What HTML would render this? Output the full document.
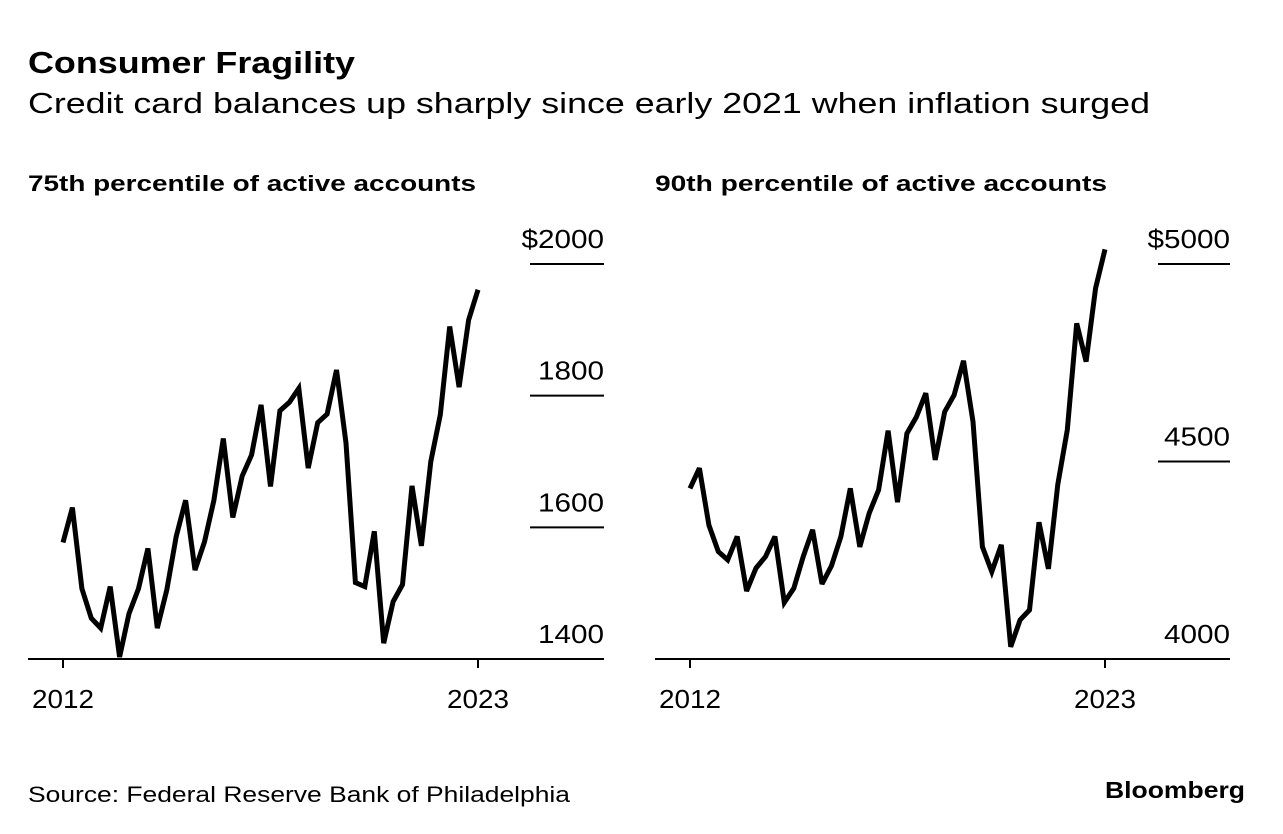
<!DOCTYPE html>
<html><head><meta charset="utf-8"><style>
body{margin:0;background:#fff;}
svg{display:block;font-family:"Liberation Sans",sans-serif;}
</style></head><body>
<svg id="c" width="1283" height="834">
<text x="28" y="73" font-size="31" font-weight="bold" textLength="327" lengthAdjust="spacingAndGlyphs">Consumer Fragility</text>
<text x="28" y="113" font-size="29" textLength="1122" lengthAdjust="spacingAndGlyphs">Credit card balances up sharply since early 2021 when inflation surged</text>
<text x="28" y="191" font-size="22" font-weight="bold" textLength="448" lengthAdjust="spacingAndGlyphs">75th percentile of active accounts</text>
<text x="655" y="191" font-size="22" font-weight="bold" textLength="452" lengthAdjust="spacingAndGlyphs">90th percentile of active accounts</text>
<text x="28" y="802" font-size="22" textLength="542" lengthAdjust="spacingAndGlyphs">Source: Federal Reserve Bank of Philadelphia</text>
<text x="1245" y="798" font-size="23" font-weight="bold" text-anchor="end" textLength="140" lengthAdjust="spacingAndGlyphs">Bloomberg</text>
<g id="left"></g>
<g id="right"></g>
</svg>
<script>
const xLabels = ["2012", "2023"];
const leftTicks = [1400, 1600, 1800, 2000];
const leftTickLabels = ["1400", "1600", "1800", "$2000"];
const rightTicks = [4000, 4500, 5000];
const rightTickLabels = ["4000", "4500", "$5000"];
const leftValues = [1577,1630,1507,1462,1447,1510,1403,1469,1507,1568,1447,1505,1586,1641,1535,1578,1641,1735,1615,1678,1710,1786,1662,1777,1790,1811,1690,1759,1772,1839,1728,1516,1510,1594,1424,1487,1513,1663,1572,1700,1771,1905,1813,1915,1961];
const rightValues = [4432,4483,4339,4272,4251,4310,4172,4230,4259,4310,4143,4179,4259,4327,4190,4236,4310,4432,4284,4369,4428,4578,4397,4571,4613,4673,4504,4626,4668,4755,4601,4284,4221,4289,4031,4099,4124,4346,4228,4442,4580,4850,4753,4939,5037];

const NS = "http://www.w3.org/2000/svg";
function mk(parent, tag, attrs, text) {
  const e = document.createElementNS(NS, tag);
  for (const k in attrs) e.setAttribute(k, attrs[k]);
  if (text !== undefined) e.textContent = text;
  parent.appendChild(e);
  return e;
}
function panel(g, values, ticks, tickLabels, x0, x1, axL, axR, gridL, vMin, vMax, prefix) {
  const yB = 659, yT = 264;
  const yS = v => yB - (v - vMin) / (vMax - vMin) * (yB - yT);
  const xS = i => x0 + i / (values.length - 1) * (x1 - x0);
  ticks.forEach((t, i) => {
    const y = yS(t);
    if (i > 0) {
      const l = mk(g, "line", {x1: gridL, x2: axR, y1: y, y2: y, stroke: "#000", "stroke-width": 2});
      
      
    }
    const lab = tickLabels[i];
    const w = lab.length * 16.5 + (lab[0] === '$' ? 0 : 0);
    const tx = mk(g, "text", {x: axR, y: y - 16, "font-size": 26, "text-anchor": "end", textLength: w, lengthAdjust: "spacingAndGlyphs"}, lab);
    
    
  });
  const ax = mk(g, "line", {x1: axL, x2: axR, y1: yB, y2: yB, stroke: "#000", "stroke-width": 2});
  
  
  [0, values.length - 1].forEach((idx, j) => {
    const x = xS(idx);
    const tk = mk(g, "line", {x1: x, x2: x, y1: yB, y2: yB + 9, stroke: "#000", "stroke-width": 2});
    
    
    const lb = mk(g, "text", {x: x, y: yB + 49, "font-size": 26, "text-anchor": "middle", textLength: 62, lengthAdjust: "spacingAndGlyphs"}, xLabels[j]);
    
    
  });
  const pts = values.map((v, i) => xS(i).toFixed(1) + "," + yS(v).toFixed(1)).join(" ");
  const pl = mk(g, "polyline", {points: pts, fill: "none", stroke: "#000", "stroke-width": 5, "stroke-linejoin": "miter", "stroke-miterlimit": 3});
  
  
}
panel(document.getElementById("left"), leftValues, leftTicks, leftTickLabels, 63, 478, 28, 604, 530, 1400, 2000, "left");
panel(document.getElementById("right"), rightValues, rightTicks, rightTickLabels, 690, 1105, 655, 1230, 1158, 4000, 5000, "right");
</script>
</body></html>
